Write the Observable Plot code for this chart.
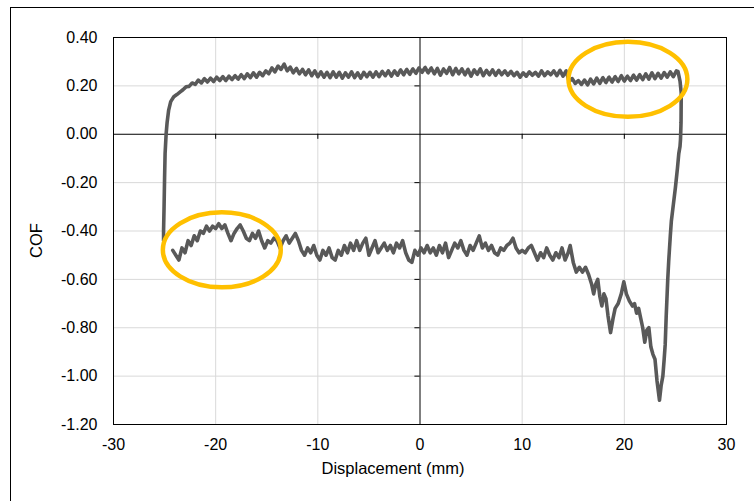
<!DOCTYPE html>
<html><head><meta charset="utf-8">
<script src="https://cdn.jsdelivr.net/npm/d3@7"></script>
<script src="https://cdn.jsdelivr.net/npm/@observablehq/plot@0.6"></script>
<style>
body{margin:0;background:#fff;}
#wrap{position:relative;width:754px;height:501px;overflow:hidden;}
#border{position:absolute;left:10px;top:7px;width:800px;height:600px;border:1px solid #000;box-sizing:border-box;}
#wrap svg{position:absolute;left:0;top:0;}
</style></head><body><div id="wrap"><div id="border"></div></div>
<script>
// Loop trace: lower branch (left to right), rise at right end, upper branch (right to left), drop at left end
const lowerX = [-24.2,-23.9,-23.6,-23.3,-23.0,-22.7,-22.4,-22.1,-21.8,-21.5,-21.2,-20.9,-20.6,-20.3,-20.0,-19.7,-19.4,-19.1,-18.8,-18.5,-18.2,-17.9,-17.6,-17.3,-17.0,-16.7,-16.4,-16.1,-15.8,-15.5,-15.2,-14.9,-14.6,-14.3,-14.0,-13.7,-13.4,-13.1,-12.8,-12.5,-12.2,-11.9,-11.6,-11.3,-11.0,-10.7,-10.4,-10.1,-9.8,-9.5,-9.2,-8.9,-8.6,-8.3,-8.0,-7.7,-7.4,-7.1,-6.8,-6.5,-6.2,-5.9,-5.6,-5.3,-5.0,-4.7,-4.4,-4.1,-3.8,-3.5,-3.2,-2.9,-2.6,-2.3,-2.0,-1.7,-1.4,-1.1,-0.8,-0.5,-0.2,0.1,0.4,0.7,1.0,1.3,1.6,1.9,2.2,2.5,2.8,3.1,3.4,3.7,4.0,4.3,4.6,4.9,5.2,5.5,5.8,6.1,6.4,6.7,7.0,7.3,7.6,7.9,8.2,8.5,8.8,9.1,9.4,9.7,10.0,10.3,10.6,10.9,11.2,11.5,11.8,12.1,12.4,12.7,13.0,13.3,13.6,13.9,14.2,14.5,14.7,15.0,15.3,15.6,15.9,16.2,16.5,16.8,17.0,17.2,17.4,17.6,17.8,18.0,18.2,18.4,18.65,18.9,19.1,19.4,19.7,19.95,20.2,20.5,20.8,21.0,21.2,21.4,21.6,21.8,22.0,22.2,22.4,22.6,22.8,23.0,23.2,23.44];
const lowerY = [-0.48,-0.50,-0.52,-0.47,-0.49,-0.44,-0.46,-0.42,-0.44,-0.40,-0.41,-0.38,-0.40,-0.38,-0.39,-0.37,-0.39,-0.375,-0.41,-0.44,-0.41,-0.39,-0.375,-0.40,-0.43,-0.44,-0.41,-0.43,-0.40,-0.44,-0.47,-0.44,-0.45,-0.43,-0.44,-0.47,-0.44,-0.42,-0.45,-0.43,-0.41,-0.44,-0.48,-0.50,-0.47,-0.49,-0.46,-0.50,-0.52,-0.48,-0.50,-0.47,-0.51,-0.52,-0.48,-0.50,-0.46,-0.49,-0.45,-0.48,-0.44,-0.48,-0.45,-0.43,-0.50,-0.47,-0.44,-0.49,-0.47,-0.45,-0.48,-0.46,-0.49,-0.45,-0.47,-0.44,-0.49,-0.52,-0.53,-0.48,-0.50,-0.47,-0.49,-0.46,-0.49,-0.47,-0.50,-0.46,-0.49,-0.45,-0.51,-0.48,-0.45,-0.47,-0.44,-0.48,-0.50,-0.46,-0.48,-0.45,-0.42,-0.47,-0.45,-0.48,-0.46,-0.49,-0.50,-0.47,-0.48,-0.46,-0.45,-0.43,-0.47,-0.49,-0.48,-0.49,-0.47,-0.46,-0.49,-0.52,-0.49,-0.51,-0.47,-0.50,-0.52,-0.49,-0.51,-0.47,-0.52,-0.49,-0.46,-0.53,-0.57,-0.55,-0.57,-0.55,-0.58,-0.62,-0.66,-0.62,-0.60,-0.67,-0.71,-0.66,-0.68,-0.75,-0.82,-0.76,-0.72,-0.70,-0.66,-0.61,-0.66,-0.69,-0.71,-0.70,-0.74,-0.72,-0.76,-0.80,-0.86,-0.81,-0.80,-0.88,-0.91,-0.93,-1.02,-1.10];
const riseX = [23.6,23.77,23.9,24.0,24.1,24.25,24.35,24.5,24.6,24.8,25.0,25.2,25.33,25.45,25.5,25.55,25.57,25.45,25.25];
const riseY = [-1.04,-1.00,-0.93,-0.87,-0.75,-0.60,-0.52,-0.42,-0.36,-0.29,-0.22,-0.14,-0.08,-0.05,-0.02,0.05,0.17,0.22,0.26];
const upperX = [25.1,24.8,24.5,24.2,23.9,23.6,23.3,23.0,22.7,22.4,22.1,21.8,21.5,21.2,20.9,20.6,20.3,20.0,19.7,19.4,19.1,18.8,18.5,18.2,17.9,17.6,17.3,17.0,16.7,16.4,16.1,15.8,15.5,15.2,14.9,14.6,14.3,14.0,13.7,13.4,13.1,12.8,12.5,12.2,11.9,11.6,11.3,11.0,10.7,10.4,10.1,9.8,9.5,9.2,8.9,8.6,8.3,8.0,7.7,7.4,7.1,6.8,6.5,6.2,5.9,5.6,5.3,5.0,4.7,4.4,4.1,3.8,3.5,3.2,2.9,2.6,2.3,2.0,1.7,1.4,1.1,0.8,0.5,0.2,-0.1,-0.4,-0.7,-1.0,-1.3,-1.6,-1.9,-2.2,-2.5,-2.8,-3.1,-3.4,-3.7,-4.0,-4.3,-4.6,-4.9,-5.2,-5.5,-5.8,-6.1,-6.4,-6.7,-7.0,-7.3,-7.6,-7.9,-8.2,-8.5,-8.8,-9.1,-9.4,-9.7,-10.0,-10.3,-10.6,-10.9,-11.2,-11.5,-11.8,-12.1,-12.4,-12.7,-13.0,-13.3,-13.6,-13.9,-14.2,-14.5,-14.8,-15.1,-15.4,-15.7,-16.0,-16.3,-16.6,-16.9,-17.2,-17.5,-17.8,-18.1,-18.4,-18.7,-19.0,-19.3,-19.6,-19.9,-20.2,-20.5,-20.8,-21.1,-21.4,-21.7,-22.0,-22.3,-22.6,-22.9,-23.2,-23.5,-23.8,-24.1,-24.4,-24.6,-24.75,-24.85,-24.95,-25.0,-25.05,-25.1,-25.1];
const upperY = [0.262,0.238,0.258,0.236,0.255,0.232,0.252,0.230,0.254,0.228,0.250,0.226,0.246,0.224,0.244,0.222,0.240,0.220,0.242,0.218,0.238,0.216,0.236,0.214,0.234,0.210,0.232,0.208,0.228,0.204,0.224,0.206,0.222,0.210,0.230,0.218,0.262,0.240,0.264,0.242,0.262,0.246,0.258,0.242,0.262,0.240,0.256,0.244,0.258,0.240,0.254,0.236,0.256,0.242,0.260,0.244,0.262,0.246,0.264,0.244,0.266,0.246,0.264,0.242,0.270,0.248,0.266,0.240,0.268,0.246,0.270,0.250,0.272,0.246,0.276,0.252,0.270,0.244,0.272,0.250,0.274,0.254,0.276,0.256,0.274,0.252,0.270,0.248,0.268,0.246,0.266,0.244,0.262,0.240,0.262,0.242,0.260,0.238,0.258,0.236,0.256,0.238,0.256,0.232,0.254,0.234,0.258,0.236,0.254,0.232,0.256,0.236,0.258,0.234,0.256,0.236,0.258,0.238,0.262,0.242,0.266,0.246,0.268,0.250,0.272,0.254,0.278,0.262,0.290,0.268,0.282,0.258,0.274,0.250,0.262,0.242,0.256,0.236,0.254,0.234,0.250,0.230,0.246,0.228,0.242,0.226,0.240,0.222,0.238,0.222,0.236,0.218,0.232,0.216,0.230,0.212,0.224,0.206,0.212,0.198,0.196,0.184,0.174,0.164,0.155,0.135,0.10,0.05,0.00,-0.08,-0.18,-0.30,-0.40,-0.44];

const xTicks = [-30,-20,-10,0,10,20,30];
const yTicks = [0.4,0.2,0,-0.2,-0.4,-0.6,-0.8,-1.0,-1.2];
const xGrid = [-20,-10,10,20];
const yGrid = [0.2,-0.2,-0.4,-0.6,-0.8,-1.0];
const xLabel = "Displacement (mm)";
const yLabel = "COF";
// highlighted regions (data units: centre and half-extent)
const hlX = [-19.35, 20.4];
const hlY = [-0.48, 0.225];
const hlRX = [5.77, 5.82];
const hlRY = [0.155, 0.155];

const loop = [
  ...lowerX.map((x,i)=>({x, y: lowerY[i]})),
  ...riseX.map((x,i)=>({x, y: riseY[i]})),
  ...upperX.map((x,i)=>({x, y: upperY[i]}))
];

const plot = Plot.plot({
  width: 754, height: 501,
  marginLeft: 113, marginRight: 28, marginTop: 37, marginBottom: 77,
  style: {fontFamily: "'Liberation Sans', Arial, sans-serif", fontSize: "16px", color: "#000", background: "transparent"},
  x: {domain: [-30, 30], label: null},
  y: {domain: [-1.2, 0.4], label: null},
  marks: [
    Plot.gridX(xGrid, {stroke: "#d9d9d9", strokeOpacity: 1, strokeWidth: 1}),
    Plot.gridY(yGrid, {stroke: "#d9d9d9", strokeOpacity: 1, strokeWidth: 1}),
    Plot.ruleY([0], {stroke: "#000", strokeWidth: 1}),
    Plot.ruleX([0], {stroke: "#000", strokeWidth: 1}),
    Plot.ruleX(xGrid, {x: d => d, y1: 0, y2: -0.021, stroke: "#000"}),
    Plot.ruleY(yGrid, {y: d => d, x1: 0, x2: -0.5, stroke: "#000"}),
    Plot.frame({stroke: "#000", strokeWidth: 1}),
    Plot.axisX(xTicks, {tickSize: 0, tickPadding: 14, tickFormat: d => String(d), fontSize: 16}),
    Plot.axisY(yTicks, {tickSize: 0, tickPadding: 16, tickFormat: d => d.toFixed(2), fontSize: 16}),
    Plot.line(loop, {x: "x", y: "y", stroke: "#595959", strokeWidth: 3.6, strokeLinejoin: "round", strokeLinecap: "round"}),
    Plot.text([xLabel], {frameAnchor: "bottom", dy: 49, dx: -27, fontSize: 16.5, text: d => d}),
    Plot.text([yLabel], {frameAnchor: "left", dx: -77, dy: 27, rotate: -90, fontSize: 16.5, text: d => d})
  ]
});

const sx = plot.scale("x"), sy = plot.scale("y");
const ns = "http://www.w3.org/2000/svg";
const g = document.createElementNS(ns, "g");
hlX.forEach((cxv, i) => {
  const e = document.createElementNS(ns, "ellipse");
  const cx = sx.apply(cxv), cy = sy.apply(hlY[i]);
  e.setAttribute("cx", cx);
  e.setAttribute("cy", cy);
  e.setAttribute("rx", Math.abs(sx.apply(cxv + hlRX[i]) - cx));
  e.setAttribute("ry", Math.abs(sy.apply(hlY[i] + hlRY[i]) - cy));
  e.setAttribute("fill", "none");
  e.setAttribute("stroke", "#FFC000");
  e.setAttribute("stroke-width", 4.5);
  g.appendChild(e);
});
plot.appendChild(g);
document.getElementById("wrap").appendChild(plot);
</script>
</body></html>
